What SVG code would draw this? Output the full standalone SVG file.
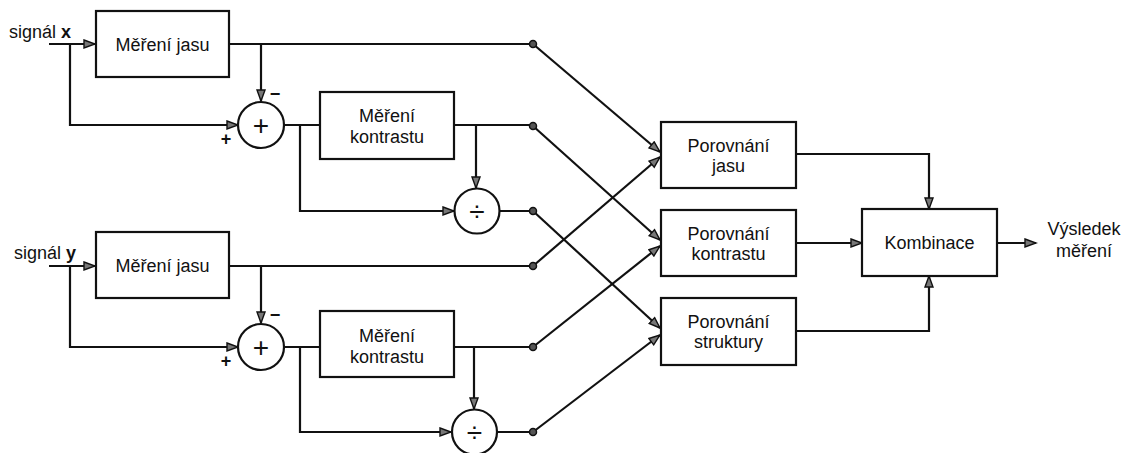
<svg xmlns="http://www.w3.org/2000/svg" width="1132" height="453" viewBox="0 0 1132 453">
<style>
.box{fill:#fff;stroke:#111;stroke-width:2.2}
.op{fill:#fff;stroke:#111;stroke-width:2.2}
.t{font-family:"Liberation Sans",Arial,sans-serif;font-size:18px;fill:#111;text-anchor:middle}
.tl{font-family:"Liberation Sans",Arial,sans-serif;font-size:18px;fill:#111}
.sign{font-family:"Liberation Sans",Arial,sans-serif;font-size:18px;font-weight:bold;fill:#111;text-anchor:middle}
.big{font-family:"Liberation Sans",Arial,sans-serif;font-size:28px;fill:#111;text-anchor:middle}
.ln{fill:none;stroke:#111;stroke-width:2.2}
.arr{fill:none;stroke:#111;stroke-width:2.2;marker-end:url(#ah)}
.dot{fill:#555;stroke:#111;stroke-width:1.5}
</style>
<defs>
<marker id="ah" markerUnits="userSpaceOnUse" markerWidth="14" markerHeight="11" refX="12" refY="5" orient="auto">
<path d="M1,1 L12,5 L1,9 z" fill="#777" stroke="#111" stroke-width="1.4"/>
</marker>
</defs>

<g id="connectors">
<path class="arr" d="M49,44 H95"/>
<path class="arr" d="M70,44 V125 H238"/>
<path class="ln" d="M229,44 H533"/>
<path class="arr" d="M261,44 V101"/>
<path class="ln" d="M284,125 H320"/>
<path class="arr" d="M300,125 V211 H454"/>
<path class="ln" d="M454,125 H533"/>
<path class="arr" d="M476,125 V188"/>
<path class="ln" d="M500,211 H533"/>
<path class="arr" d="M49,266 H95"/>
<path class="arr" d="M70,266 V347 H238"/>
<path class="ln" d="M229,266 H533"/>
<path class="arr" d="M261,266 V323"/>
<path class="ln" d="M284,347 H320"/>
<path class="arr" d="M300,347 V432 H451"/>
<path class="ln" d="M454,347 H533"/>
<path class="arr" d="M474,347 V409"/>
<path class="ln" d="M497,432 H533"/>
<path class="arr" d="M533,44 L660,152"/>
<path class="arr" d="M533,266 L660,157"/>
<path class="arr" d="M533,126 L660,240"/>
<path class="arr" d="M533,347 L660,246"/>
<path class="arr" d="M533,211 L660,328"/>
<path class="arr" d="M533,432 L660,335"/>
<path class="arr" d="M796,154 H929 V209"/>
<path class="arr" d="M796,243 H862"/>
<path class="arr" d="M796,331 H929 V276"/>
<path class="arr" d="M997,243 H1036"/>
<circle class="dot" cx="533" cy="44" r="3.5"/>
<circle class="dot" cx="533" cy="126" r="3.5"/>
<circle class="dot" cx="533" cy="211" r="3.5"/>
<circle class="dot" cx="533" cy="266" r="3.5"/>
<circle class="dot" cx="533" cy="347" r="3.5"/>
<circle class="dot" cx="533" cy="432" r="3.5"/>
</g>

<g id="labels">
<text class="tl" x="9" y="38">signál <tspan font-weight="bold">x</tspan></text>
<text class="tl" x="14" y="259">signál <tspan font-weight="bold">y</tspan></text>
<text class="sign" x="275" y="100">−</text>
<text class="sign" x="226" y="145">+</text>
<text class="sign" x="275" y="321">−</text>
<text class="sign" x="226" y="367">+</text>
<text class="t" x="1084" y="235">Výsledek</text>
<text class="t" x="1084" y="257">měření</text>
</g>

<g id="jas_x">
<rect class="box" x="96" y="11" width="133" height="66"/>
<text class="t" x="162.5" y="51">Měření jasu</text>
</g>
<g id="sum_x">
<circle class="op" cx="261" cy="125" r="23"/>
<text class="big" x="261" y="135">+</text>
</g>
<g id="kontrast_x">
<rect class="box" x="320" y="92" width="134" height="67"/>
<text class="t" x="387" y="122">Měření</text>
<text class="t" x="387" y="143">kontrastu</text>
</g>
<g id="div_x">
<circle class="op" cx="477" cy="211" r="22.5"/>
<text class="big" x="477" y="221">÷</text>
</g>

<g id="jas_y">
<rect class="box" x="96" y="232" width="133" height="66"/>
<text class="t" x="162.5" y="272">Měření jasu</text>
</g>
<g id="sum_y">
<circle class="op" cx="261" cy="347" r="23"/>
<text class="big" x="261" y="357">+</text>
</g>
<g id="kontrast_y">
<rect class="box" x="320" y="311" width="134" height="66"/>
<text class="t" x="387" y="342">Měření</text>
<text class="t" x="387" y="363">kontrastu</text>
</g>
<g id="div_y">
<circle class="op" cx="474.5" cy="432" r="22.5"/>
<text class="big" x="474.5" y="442">÷</text>
</g>

<g id="por_jasu">
<rect class="box" x="661" y="122" width="135" height="66"/>
<text class="t" x="728.5" y="152">Porovnání</text>
<text class="t" x="728.5" y="172">jasu</text>
</g>
<g id="por_kontrastu">
<rect class="box" x="661" y="210" width="135" height="66"/>
<text class="t" x="728.5" y="240">Porovnání</text>
<text class="t" x="728.5" y="260">kontrastu</text>
</g>
<g id="por_struktury">
<rect class="box" x="661" y="298" width="135" height="67"/>
<text class="t" x="728.5" y="328">Porovnání</text>
<text class="t" x="728.5" y="348">struktury</text>
</g>
<g id="kombinace">
<rect class="box" x="862" y="209" width="135" height="67"/>
<text class="t" x="929.5" y="249">Kombinace</text>
</g>
</svg>
